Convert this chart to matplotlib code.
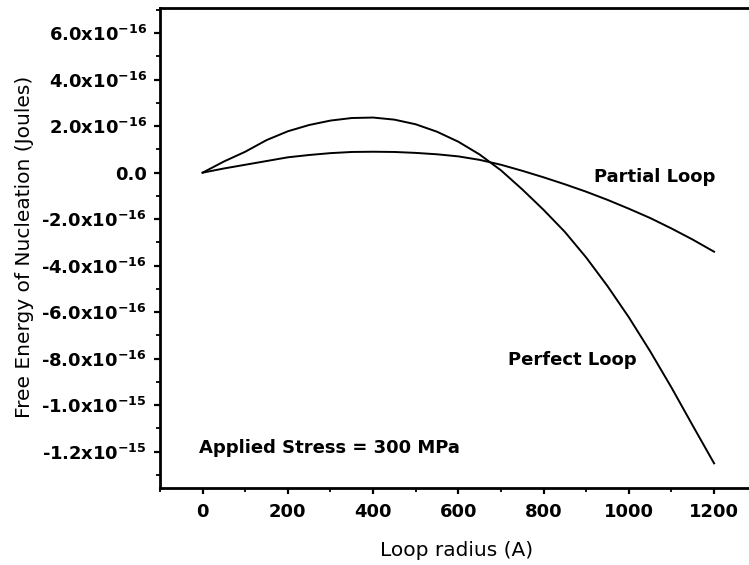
import matplotlib
matplotlib.use("Agg")
import matplotlib.pyplot as plt
from matplotlib.ticker import MultipleLocator, FixedLocator, FixedFormatter

# Loop radius (A)
radius = [0, 50, 100, 150, 200, 250, 300, 350, 400, 450, 500, 550, 600,
          650, 700, 750, 800, 850, 900, 950, 1000, 1050, 1100, 1150, 1200]

# Free energy of nucleation, in units of 1e-16 J
perfect_loop = [0.0, 0.48, 0.90, 1.40, 1.78, 2.05, 2.24, 2.35, 2.37, 2.28,
                2.08, 1.76, 1.33, 0.78, 0.10, -0.72, -1.60, -2.55, -3.65,
                -4.88, -6.22, -7.68, -9.24, -10.88, -12.50]
partial_loop = [0.0, 0.18, 0.34, 0.50, 0.66, 0.76, 0.84, 0.89, 0.90, 0.89,
                0.85, 0.79, 0.70, 0.55, 0.34, 0.08, -0.20, -0.50, -0.82,
                -1.17, -1.55, -1.95, -2.40, -2.88, -3.40]

ytick_values = [6e-16, 4e-16, 2e-16, 0.0, -2e-16, -4e-16, -6e-16, -8e-16,
                -1.0e-15, -1.2e-15]
ytick_labels = [r"6.0x10$^{-16}$", r"4.0x10$^{-16}$", r"2.0x10$^{-16}$", "0.0",
                r"-2.0x10$^{-16}$", r"-4.0x10$^{-16}$", r"-6.0x10$^{-16}$",
                r"-8.0x10$^{-16}$", r"-1.0x10$^{-15}$", r"-1.2x10$^{-15}$"]

plt.rcParams["mathtext.fontset"] = "dejavusans"
plt.rcParams["mathtext.default"] = "bf"

fig = plt.figure(figsize=(7.49, 5.65), dpi=100)
ax = fig.add_axes([0.2136, 0.1363, 1.0103 - 0.2136, 0.9858 - 0.1363])

scale = 1e-16
ax.plot(radius, [v * scale for v in perfect_loop], color="black", lw=1.4)
ax.plot(radius, [v * scale for v in partial_loop], color="black", lw=1.4)

ax.set_xlim(-100, 1300)
ax.set_ylim(-1.356e-15, 7.08e-16)

ax.xaxis.set_major_locator(MultipleLocator(200))
ax.xaxis.set_minor_locator(MultipleLocator(100))
ax.yaxis.set_major_locator(FixedLocator(ytick_values))
ax.yaxis.set_major_formatter(FixedFormatter(ytick_labels))
ax.yaxis.set_minor_locator(MultipleLocator(1e-16))

ax.spines["right"].set_visible(False)
for side in ["left", "bottom", "top"]:
    ax.spines[side].set_linewidth(2)

ax.tick_params(which="major", direction="out", length=4.5, width=1.6)
ax.tick_params(which="minor", direction="out", length=3, width=1.3)
ax.tick_params(axis="x", which="major", pad=6)
ax.tick_params(axis="y", which="major", pad=5)
for lab in ax.get_xticklabels() + ax.get_yticklabels():
    lab.set_fontsize(13)
    lab.set_fontweight("bold")

ax.set_xlabel("Loop radius (A)", fontsize=14.5)
ax.set_ylabel("Free Energy of Nucleation (Joules)", fontsize=14.5)
ax.xaxis.set_label_coords((457 - 160) / (756.7 - 160), -(541 - 488) / 480)
ax.yaxis.set_label_coords(-(160 - 34) / (756.7 - 160), (488 - 247) / 480)

ax.text(918, -0.40e-16, "Partial Loop", fontsize=13, fontweight="bold",
        ha="left", va="baseline")
ax.text(716, -8.27e-16, "Perfect Loop", fontsize=13, fontweight="bold",
        ha="left", va="baseline")
ax.text(-8, -12.06e-16, "Applied Stress = 300 MPa", fontsize=13,
        fontweight="bold", ha="left", va="baseline")

fig.savefig("out.png", dpi=100)
